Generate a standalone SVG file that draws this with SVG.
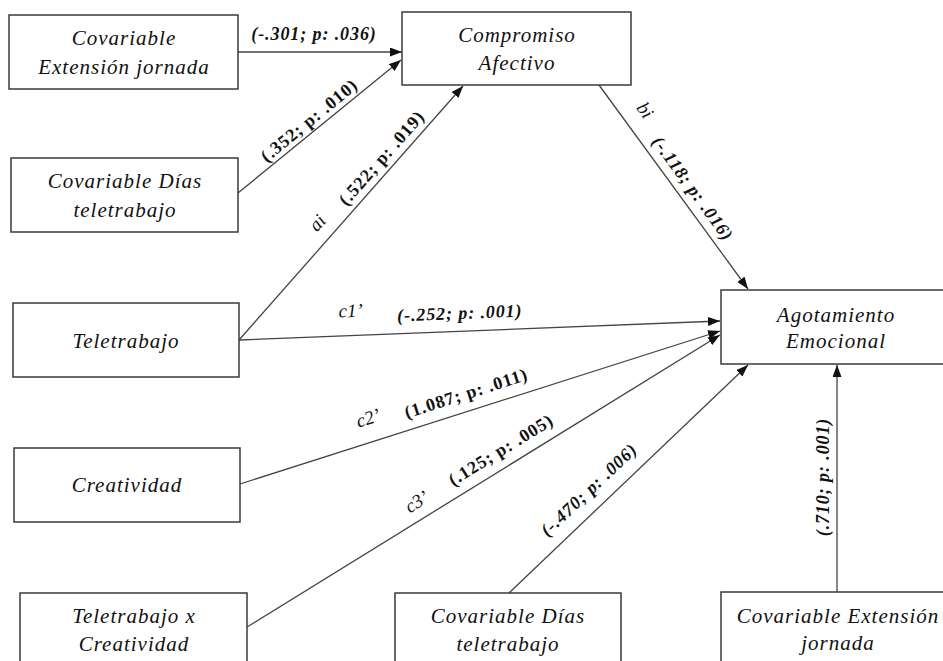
<svg xmlns="http://www.w3.org/2000/svg" width="943" height="661" viewBox="0 0 943 661">
<style>
.box{fill:#fff;stroke:#3a3a3a;stroke-width:1.5}
.nt{font-family:"Liberation Serif","Times New Roman",serif;font-style:italic;font-size:21px;letter-spacing:1px;fill:#111;text-anchor:middle}
.ln{stroke:#444;stroke-width:1.3;fill:none;marker-end:url(#ah)}
.lb{font-family:"Liberation Serif","Times New Roman",serif;font-weight:bold;font-size:18px;letter-spacing:0.9px;fill:#111;text-anchor:middle}
.it{font-style:italic}
.sm{font-family:"Liberation Serif","Times New Roman",serif;font-style:italic;font-size:19px;fill:#111;text-anchor:middle}
</style>
<defs>
<marker id="ah" markerUnits="userSpaceOnUse" markerWidth="12" markerHeight="9" refX="12" refY="4.5" orient="auto">
<path d="M0,0 L12,4.5 L0,9 z" fill="#111"/>
</marker>
</defs>
<rect width="943" height="661" fill="#fff"/>
<g id="connectors">
<line class="ln" x1="238" y1="52" x2="402" y2="52"/>
<line class="ln" x1="238" y1="193" x2="401" y2="60"/>
<line class="ln" x1="239" y1="340" x2="463" y2="86"/>
<line class="ln" x1="599" y1="85" x2="748" y2="289"/>
<line class="ln" x1="239" y1="340" x2="720" y2="321"/>
<line class="ln" x1="240" y1="484" x2="720" y2="331"/>
<line class="ln" x1="247" y1="627" x2="720" y2="335"/>
<line class="ln" x1="509" y1="593" x2="748" y2="365"/>
<line class="ln" x1="837" y1="592" x2="837" y2="365"/>
</g>
<g id="labels">
<text class="lb it" x="314" y="40" letter-spacing="1.3">(-.301; p: .036)</text>
<text class="lb" x="313" y="125" transform="rotate(-39.4 313 125)">(.352; p: .010)</text>
<text class="sm" x="322" y="227" transform="rotate(-48.6 322 227)">ai</text>
<text class="lb" x="386" y="162" transform="rotate(-48.6 386 162)">(.522; p: .019)</text>
<text class="sm" x="640" y="114" transform="rotate(53.9 640 114)">bi</text>
<text class="lb it" x="688" y="192" transform="rotate(53.9 688 192)">(-.118; p: .016)</text>
<text class="sm" x="351" y="317" transform="rotate(-2.3 351 317)">c1’</text>
<text class="lb it" x="460" y="319" letter-spacing="1.3" transform="rotate(-2.3 460 319)">(-.252; p: .001)</text>
<text class="sm" x="370" y="424" font-style="normal" transform="rotate(-17.7 370 424)">c2’</text>
<text class="lb" x="468" y="399" transform="rotate(-17.7 468 399)">(1.087; p: .011)</text>
<text class="sm" x="420" y="507" font-style="normal" transform="rotate(-31.7 420 507)">c3’</text>
<text class="lb" x="504" y="455" transform="rotate(-31.7 504 455)">(.125; p: .005)</text>
<text class="lb it" x="593" y="494" transform="rotate(-43.5 593 494)">(-.470; p: .006)</text>
<text class="lb it" x="829" y="477" transform="rotate(-90 829 477)">(.710; p: .001)</text>
</g>
<g id="n-ext-top">
<rect class="box" x="9" y="15" width="229" height="74"/>
<text class="nt" x="124" y="45">Covariable</text>
<text class="nt" x="124" y="74">Extensión jornada</text>
</g>
<g id="n-dias-top">
<rect class="box" x="11" y="158" width="227" height="74"/>
<text class="nt" x="125" y="188">Covariable Días</text>
<text class="nt" x="125" y="217">teletrabajo</text>
</g>
<g id="n-compromiso">
<rect class="box" x="402" y="12" width="229" height="73"/>
<text class="nt" x="517" y="42">Compromiso</text>
<text class="nt" x="517" y="70">Afectivo</text>
</g>
<g id="n-teletrabajo">
<rect class="box" x="13" y="303" width="226" height="74"/>
<text class="nt" x="126" y="348">Teletrabajo</text>
</g>
<g id="n-creatividad">
<rect class="box" x="14" y="448" width="226" height="74"/>
<text class="nt" x="127" y="492">Creatividad</text>
</g>
<g id="n-agotamiento">
<rect class="box" x="721" y="290" width="232" height="74"/>
<text class="nt" x="836" y="322">Agotamiento</text>
<text class="nt" x="836" y="348">Emocional</text>
</g>
<g id="n-interaccion">
<rect class="box" x="20" y="593" width="227" height="80"/>
<text class="nt" x="134" y="623">Teletrabajo x</text>
<text class="nt" x="134" y="651">Creatividad</text>
</g>
<g id="n-dias-bottom">
<rect class="box" x="395" y="593" width="226" height="80"/>
<text class="nt" x="508" y="623">Covariable Días</text>
<text class="nt" x="508" y="651">teletrabajo</text>
</g>
<g id="n-ext-bottom">
<rect class="box" x="721" y="592" width="232" height="80"/>
<text class="nt" x="838" y="623">Covariable Extensión</text>
<text class="nt" x="838" y="650">jornada</text>
</g>
</svg>
